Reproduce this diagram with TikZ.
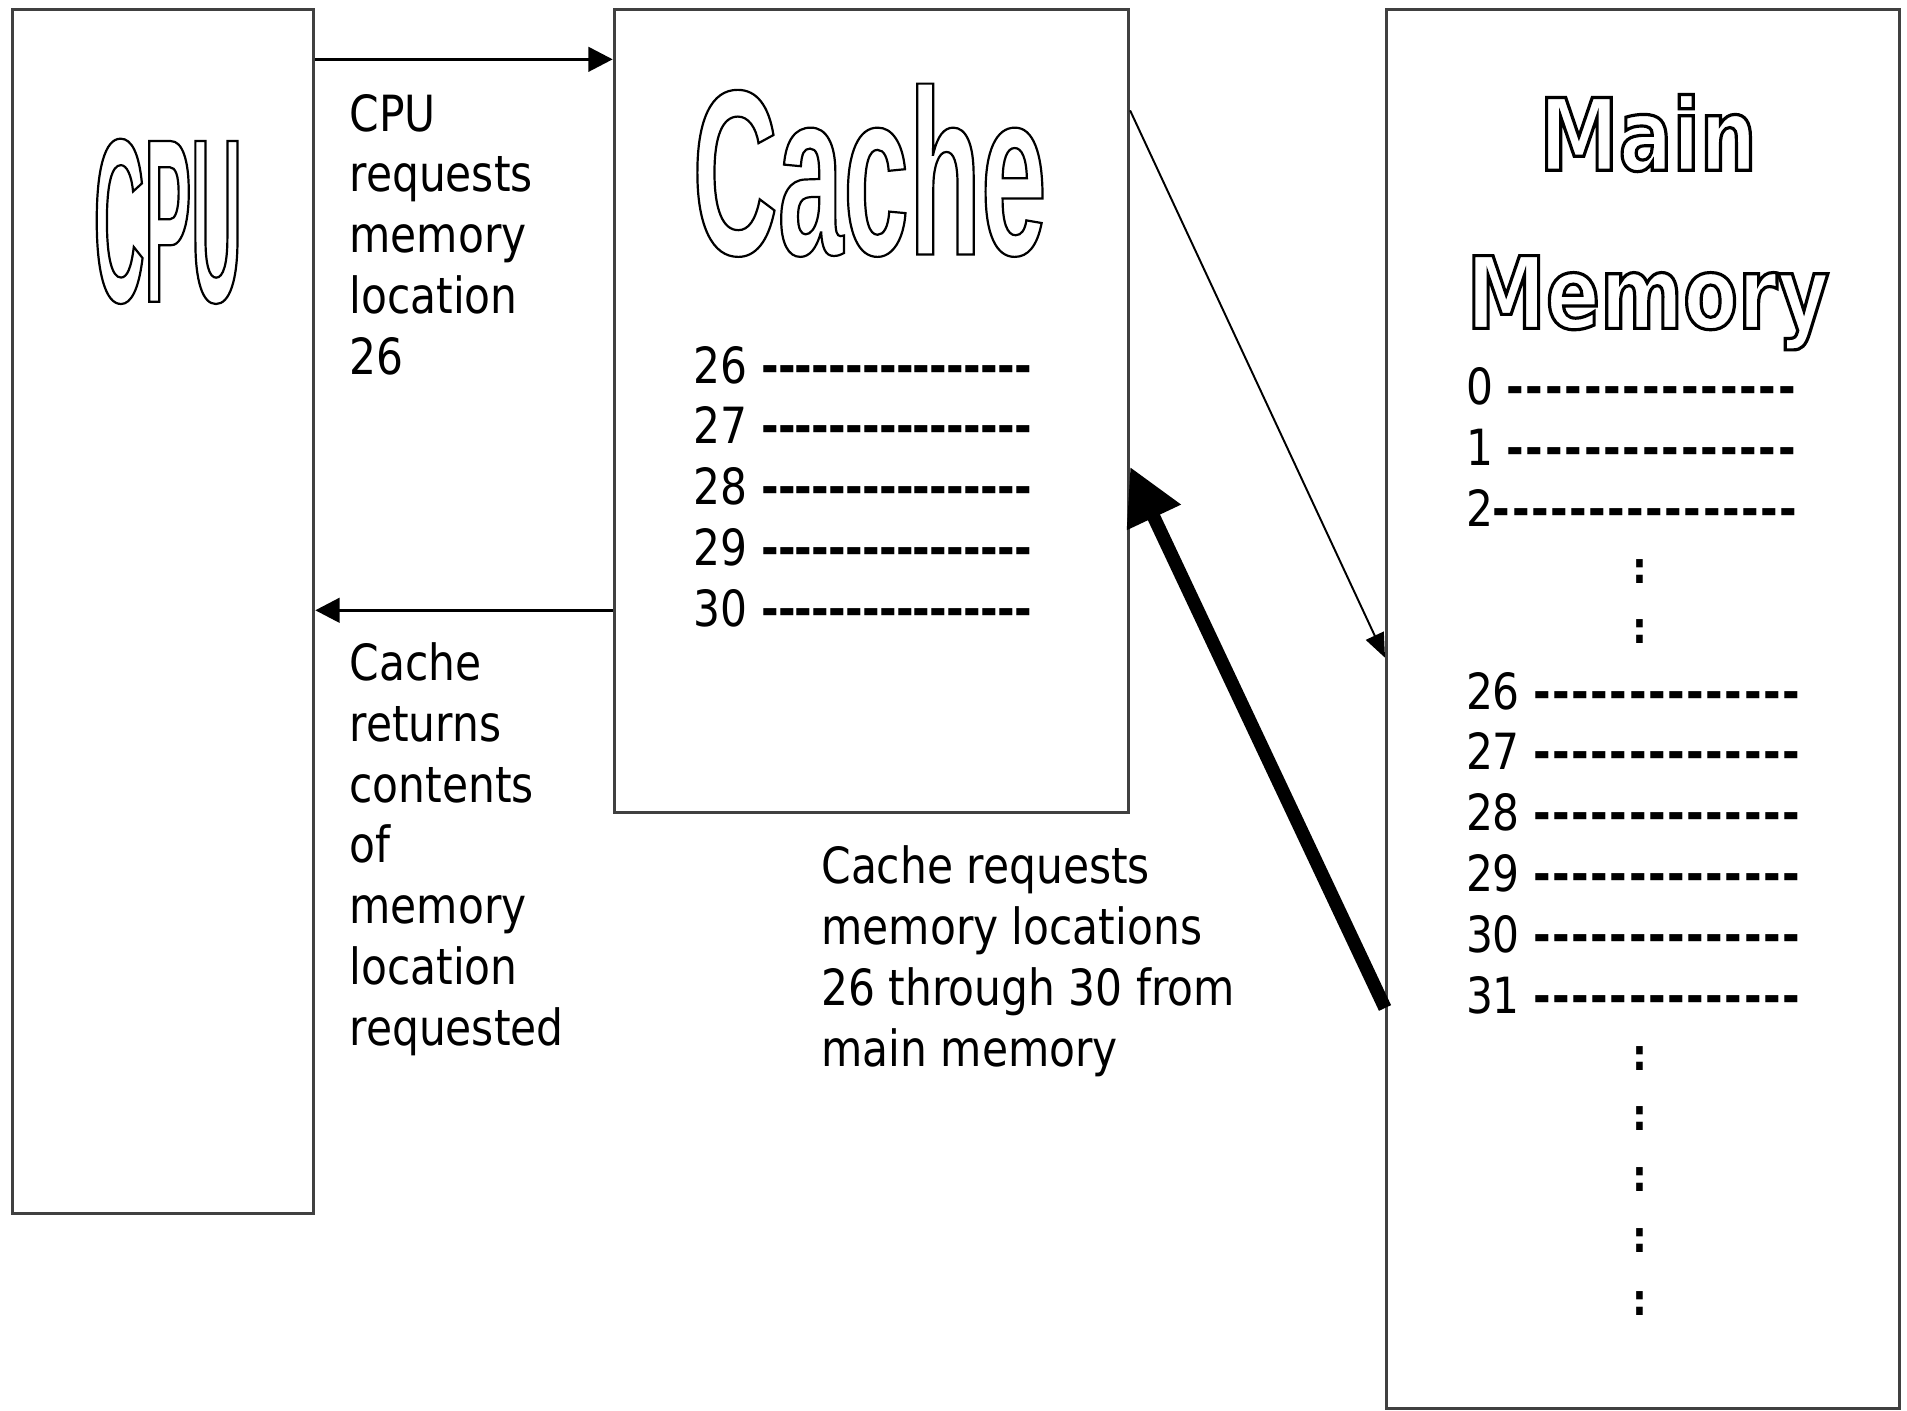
\documentclass[tikz,border=0pt]{standalone}
\usepackage{fontspec}
\setmainfont{DejaVu Sans}
\newfontfamily\lblfont[FakeStretch=0.85]{DejaVu Sans}
\newfontfamily\narrowfont[FakeStretch=0.30]{Liberation Sans Bold}
\newfontfamily\cachefont[FakeStretch=0.50]{Liberation Sans Bold}
\newfontfamily\widefont[FakeStretch=0.80]{DejaVu Sans Bold}
\usetikzlibrary{arrows.meta}
\newcommand\hollow[2][0.8]{\special{pdf:literal direct 1 Tr #1 w}#2\special{pdf:literal direct 0 Tr}}
\newcommand\dashrow[2]{{\bfseries\foreach\k in {1,...,#1}{-\kern#2}}}
\begin{document}
\begin{tikzpicture}[x=0.5pt,y=-0.5pt,
  box/.style={draw=black!75,line width=1.2pt,inner sep=0pt},
  lbl/.style={font=\lblfont\fontsize{20.5pt}{25pt}\selectfont,align=left,inner sep=0pt,anchor=north west},
  row/.style={font=\lblfont\fontsize{20.5pt}{25pt}\selectfont,inner sep=0pt,anchor=base west},
  dots/.style={font=\lblfont\bfseries\fontsize{18pt}{18pt}\selectfont,inner sep=0pt},
  arr/.style={-{Triangle[length=10pt,width=10pt]},line width=1.4pt}]
\useasboundingbox (0,0) rectangle (1568,1160);
\node[box,minimum width=124pt,minimum height=495pt] (cpu) at (134,503) {};
\node[box,minimum width=211.5pt,minimum height=330pt] (cache) at (716.5,338) {};
\node[box,minimum width=211pt,minimum height=575pt] (mem) at (1351,583) {};
\node[inner sep=0pt,font=\narrowfont\fontsize{96pt}{96pt}\selectfont] (cputitle) at (138,182) {\hollow[0.9]{CPU}};
\node[inner sep=0pt,font=\cachefont\fontsize{97pt}{97pt}\selectfont] (cachetitle) at (715,140) {\hollow[0.9]{Cache}};
\node[inner sep=0pt,anchor=base,font=\widefont\fontsize{41pt}{41pt}\selectfont] (maintitle) at (1355,140) {\hollow[1.3]{Main}};
\node[inner sep=0pt,anchor=base,font=\widefont\fontsize{41pt}{41pt}\selectfont] (memtitle) at (1355,270) {\hollow[1.3]{Memory}};
\node[lbl] (req) at (287,77) {CPU\\requests\\memory\\location\\26};
\node[lbl] (ret) at (287,528) {Cache\\returns\\contents\\of\\memory\\location\\requested};
\node[lbl] (fetch) at (675,695) {Cache requests\\memory locations\\26 through 30 from\\main memory};
\foreach \n [count=\i from 0] in {26,...,30}
  \node[row] (c\n) at (570,315+50*\i) {\n\ \dashrow{16}{-0.3pt}};
\node[row] (m0) at (1205,333) {0 \dashrow{15}{0.75pt}};
\node[row] (m1) at (1205,383) {1 \dashrow{15}{0.75pt}};
\node[row] (m2) at (1205,433) {2\dashrow{16}{0.62pt}};
\foreach \n [count=\i from 0] in {26,...,31}
  \node[row] (m\n) at (1205,583+50*\i) {\n\ \dashrow{14}{0.64pt}};
\foreach \y in {470,519,870,920,970,1020,1072}
  \node[dots] (dot\y) at (1348,\y) {:};
\draw[arr] ([yshift=-21pt]cpu.north east) -- ([yshift=-21pt]cache.north west);
\draw[arr] ([yshift=-247.5pt]cache.north west) -- ([yshift=-247.5pt]cpu.north east);
\draw[-{Triangle[length=10pt,width=8pt]},line width=0.8pt] ([yshift=-42pt]cache.north east) -- ([yshift=-267pt]mem.north west);
\draw[-{Triangle[length=23pt,width=23pt]},line width=5.5pt] ([yshift=-411pt]mem.north west) -- ([yshift=-188.5pt]cache.north east);
\end{tikzpicture}
\end{document}
